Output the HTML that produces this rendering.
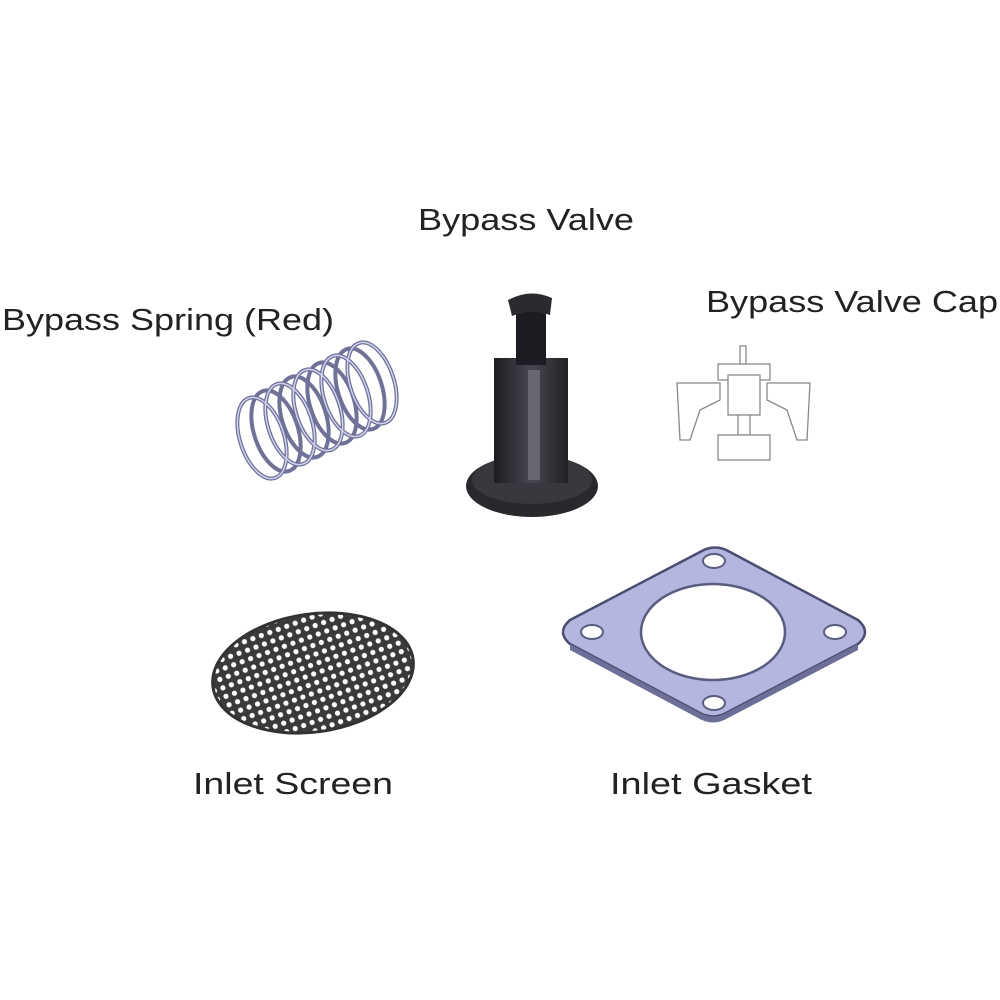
<!DOCTYPE html>
<html><head><meta charset="utf-8"><style>
html,body{margin:0;padding:0;background:#fff;width:1000px;height:1000px;overflow:hidden}
svg text{font-family:"Liberation Sans",sans-serif;font-size:31px;fill:#222}
</style></head><body>
<svg width="1000" height="1000" viewBox="0 0 1000 1000" xmlns="http://www.w3.org/2000/svg">
<defs>
<pattern id="holes" width="9" height="9" patternUnits="userSpaceOnUse" patternTransform="rotate(-12)">
<rect width="9" height="9" fill="#3a3a3a"/>
<circle cx="4.5" cy="4.5" r="2.6" fill="#fff"/>
</pattern>
<linearGradient id="vg" x1="0" x2="1">
<stop offset="0" stop-color="#1e1c22"/><stop offset="0.5" stop-color="#4a4650"/><stop offset="1" stop-color="#222025"/>
</linearGradient>
</defs>
<text x="418" y="230" textLength="216" lengthAdjust="spacingAndGlyphs">Bypass Valve</text>
<text x="2" y="330" textLength="332" lengthAdjust="spacingAndGlyphs">Bypass Spring (Red)</text>
<text x="706" y="312" textLength="292" lengthAdjust="spacingAndGlyphs">Bypass Valve Cap</text>
<text x="193" y="794" textLength="200" lengthAdjust="spacingAndGlyphs">Inlet Screen</text>
<text x="610" y="794" textLength="202" lengthAdjust="spacingAndGlyphs">Inlet Gasket</text>

<!-- spring -->
<g fill="none" stroke="#6f7198" stroke-width="4">
<ellipse cx="262" cy="438" rx="22" ry="42" transform="rotate(-18 262 438)"/>
<ellipse cx="276" cy="431" rx="22" ry="42" transform="rotate(-18 276 431)"/>
<ellipse cx="290" cy="424" rx="22" ry="42" transform="rotate(-18 290 424)"/>
<ellipse cx="304" cy="417" rx="22" ry="42" transform="rotate(-18 304 417)"/>
<ellipse cx="318" cy="410" rx="22" ry="42" transform="rotate(-18 318 410)"/>
<ellipse cx="332" cy="403" rx="22" ry="42" transform="rotate(-18 332 403)"/>
<ellipse cx="346" cy="396" rx="22" ry="42" transform="rotate(-18 346 396)"/>
<ellipse cx="360" cy="389" rx="22" ry="42" transform="rotate(-18 360 389)"/>
<ellipse cx="372" cy="383" rx="22" ry="42" transform="rotate(-18 372 383)"/>
</g>
<g fill="none" stroke="#d0d2ee" stroke-width="1.5">
<ellipse cx="262" cy="438" rx="22" ry="42" transform="rotate(-18 262 438)"/>
<ellipse cx="290" cy="424" rx="22" ry="42" transform="rotate(-18 290 424)"/>
<ellipse cx="318" cy="410" rx="22" ry="42" transform="rotate(-18 318 410)"/>
<ellipse cx="346" cy="396" rx="22" ry="42" transform="rotate(-18 346 396)"/>
<ellipse cx="372" cy="383" rx="22" ry="42" transform="rotate(-18 372 383)"/>
</g>

<!-- valve -->
<ellipse cx="532" cy="486" rx="66" ry="31" fill="#2a282d"/>
<ellipse cx="532" cy="480" rx="60" ry="24" fill="#3a373e"/>
<rect x="494" y="358" width="74" height="125" fill="url(#vg)"/>
<rect x="528" y="370" width="12" height="110" fill="#6a6670"/>
<rect x="516" y="310" width="30" height="55" fill="#1e1c22"/>
<path d="M508 300 Q530 288 552 298 L550 315 Q530 308 512 316 Z" fill="#2c2a30"/>

<!-- cap -->
<g fill="#fff" stroke="#888" stroke-width="1.3">
<rect x="740" y="346" width="6" height="18"/>
<path d="M718 364 H770 V380 H718 Z"/>
<path d="M677 383 H720 V400 L700 410 L690 440 H680 Z"/>
<path d="M810 383 H767 V400 L787 410 L797 440 H807 Z"/>
<rect x="728" y="375" width="32" height="40"/>
<rect x="738" y="415" width="12" height="20"/>
<path d="M718 435 H770 V460 H718 Z"/>
</g>

<!-- screen -->
<ellipse cx="313" cy="673" rx="101" ry="59" transform="rotate(-8 313 673)" fill="url(#holes)" stroke="#333" stroke-width="3"/>

<!-- gasket -->
<path d="M700 552 Q715 543 730 552 L858 620 Q872 632 858 644 L728 712 Q713 721 698 712 L570 644 Q556 632 570 620 Z" fill="#b4b6e0" stroke="#4a4c70" stroke-width="2.5"/>
<path d="M570 644 L698 712 Q713 721 728 712 L858 644 L858 650 L728 718 Q713 727 698 718 L570 650 Z" fill="#6d6f98"/>
<ellipse cx="713" cy="632" rx="72" ry="48" fill="#fff" stroke="#5a5c80" stroke-width="2.5"/>
<g fill="#fff" stroke="#5a5c80" stroke-width="2">
<ellipse cx="714" cy="561" rx="11" ry="7"/>
<ellipse cx="714" cy="703" rx="11" ry="7"/>
<ellipse cx="592" cy="632" rx="11" ry="7"/>
<ellipse cx="835" cy="632" rx="11" ry="7"/>
</g>
</svg>
</body></html>
